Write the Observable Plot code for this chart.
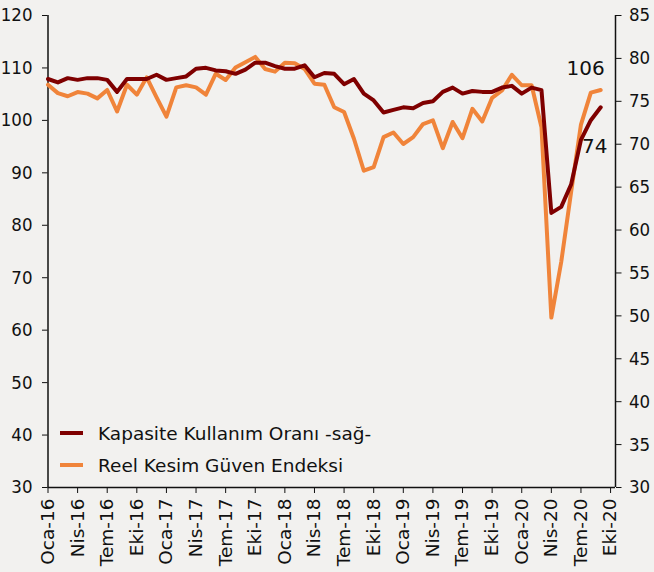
<!DOCTYPE html>
<html><head><meta charset="utf-8">
<script src="https://cdn.jsdelivr.net/npm/d3@7"></script>
<script src="https://cdn.jsdelivr.net/npm/@observablehq/plot@0.6"></script>
<style>
html,body{margin:0;padding:0;background:#f2f1ef;}
#wrap{position:relative;width:654px;height:572px;overflow:hidden;}
.legend{position:absolute;left:60px;top:417px;font-family:"DejaVu Sans",sans-serif;font-size:18.5px;color:#111;}
.item{display:flex;align-items:center;height:32px;white-space:nowrap;}
.sw{width:23px;height:4px;margin-right:15px;}
.yax text{font-family:"DejaVu Sans Condensed","DejaVu Sans",sans-serif;font-stretch:condensed;}
</style></head><body><div id="wrap"></div>
<script>
// Turkish month abbreviations
const monthNames = ["Oca","Şub","Mar","Nis","May","Haz","Tem","Ağu","Eyl","Eki","Kas","Ara"];
const years = ["16","17","18","19","20"];
// Monthly categories Jan 2016 – Sep 2020
const months = [];
years.forEach(y => monthNames.forEach(m => months.push(m + "-" + y)));
months.length = 57;

// Kapasite Kullanım Oranı (right axis, %)
const kko = [77.6,77.2,77.7,77.5,77.7,77.7,77.5,76.1,77.6,77.6,77.6,78.1,
             77.5,77.7,77.9,78.8,78.9,78.6,78.5,78.2,78.7,79.5,79.5,79.1,
             78.8,78.8,79.2,77.8,78.3,78.2,77.0,77.6,75.9,75.1,73.7,74.0,
             74.3,74.2,74.8,75.0,76.1,76.6,75.9,76.2,76.1,76.1,76.6,76.8,
             75.9,76.6,76.3,62.0,62.7,65.3,70.5,72.8,74.3];
// Reel Kesim Güven Endeksi (left axis)
const rkge = [106.8,105.2,104.6,105.4,105.1,104.2,105.8,101.7,106.8,104.9,108.2,104.4,
              100.7,106.3,106.7,106.3,104.9,108.9,107.7,110.1,111.1,112.1,109.8,109.3,
              111.0,110.9,109.8,107.0,106.8,102.5,101.6,96.5,90.4,91.1,96.8,97.7,
              95.5,96.8,99.3,100.0,94.7,99.7,96.6,102.2,99.8,104.3,105.7,108.7,
              106.7,106.7,98.7,62.4,73.0,86.3,99.2,105.3,105.8];

const tickLabels = ["Oca-16","Nis-16","Tem-16","Eki-16","Oca-17","Nis-17","Tem-17","Eki-17",
                    "Oca-18","Nis-18","Tem-18","Eki-18","Oca-19","Nis-19","Tem-19","Eki-19",
                    "Oca-20","Nis-20","Tem-20","Eki-20"];
const leftTicks = [30,40,50,60,70,80,90,100,110,120];
const rightTicks = [30,35,40,45,50,55,60,65,70,75,80,85];

const seriesNames = ["Kapasite Kullanım Oranı -sağ-","Reel Kesim Güven Endeksi"];
const colors = ["#7f0000","#f0843a"];

// map right-axis values onto the left scale
const L0 = 30, L1 = 120, R0 = 30, R1 = 85;
const toLeft = r => L0 + (r - R0) * (L1 - L0) / (R1 - R0);
const fromLeft = l => R0 + (l - L0) * (R1 - R0) / (L1 - L0);

const red = kko.map((v, i) => ({i, v: toLeft(v), raw: v, m: months[i]}));
const orange = rkge.map((v, i) => ({i, v, raw: v, m: months[i]}));
const tickIdx = tickLabels.map((_, k) => k * 3);
const xMax = 57.5;

const chart = Plot.plot({
  width: 654, height: 572,
  marginLeft: 47.5, marginRight: 39, marginTop: 15, marginBottom: 85,
  style: {fontFamily: "DejaVu Sans, sans-serif", fontSize: "17px", background: "transparent", color: "#111"},
  x: {type: "linear", domain: [0, xMax]},
  y: {domain: [L0, L1]},
  marks: [
    Plot.axisY({ticks: leftTicks, anchor: "left", tickSize: 5.5, tickPadding: 10, label: null, fontSize: 18.5,
                className: "yax", tickFormat: d => d}),
    Plot.axisY({ticks: rightTicks.map(toLeft), anchor: "right", tickSize: 5.5, tickPadding: 8, label: null, fontSize: 18.5,
                className: "yax", tickFormat: d => Math.round(fromLeft(d))}),
    Plot.axisX({ticks: tickIdx, tickRotate: -90, tickSize: 6, tickPadding: 5, label: null, fontSize: 18.5,
                tickFormat: d => tickLabels[Math.round(d / 3)]}),
    Plot.ruleX([0, xMax], {stroke: "#111", strokeWidth: 1.5}),
    Plot.ruleY([L0], {stroke: "#111", strokeWidth: 1.5}),
    Plot.line(orange, {x: "i", y: "v", stroke: colors[1], strokeWidth: 4}),
    Plot.line(red, {x: "i", y: "v", stroke: colors[0], strokeWidth: 4}),
    Plot.text([orange[orange.length - 1]], {x: "i", y: "v", text: d => Math.round(d.raw), dx: -15, dy: -21, fontSize: 20, fill: "#111"}),
    Plot.text([red[red.length - 1]], {x: "i", y: "v", text: d => Math.round(d.raw), dx: -6, dy: 39, fontSize: 20, fill: "#111"})
  ]
});
const wrap = document.getElementById("wrap");
wrap.appendChild(chart);

const legend = document.createElement("div");
legend.className = "legend";
seriesNames.forEach((n, k) => {
  const it = document.createElement("div");
  it.className = "item";
  const sw = document.createElement("span");
  sw.className = "sw"; sw.style.background = colors[k];
  const t = document.createElement("span"); t.textContent = n;
  it.appendChild(sw); it.appendChild(t);
  legend.appendChild(it);
});
wrap.appendChild(legend);
</script>
</body></html>
